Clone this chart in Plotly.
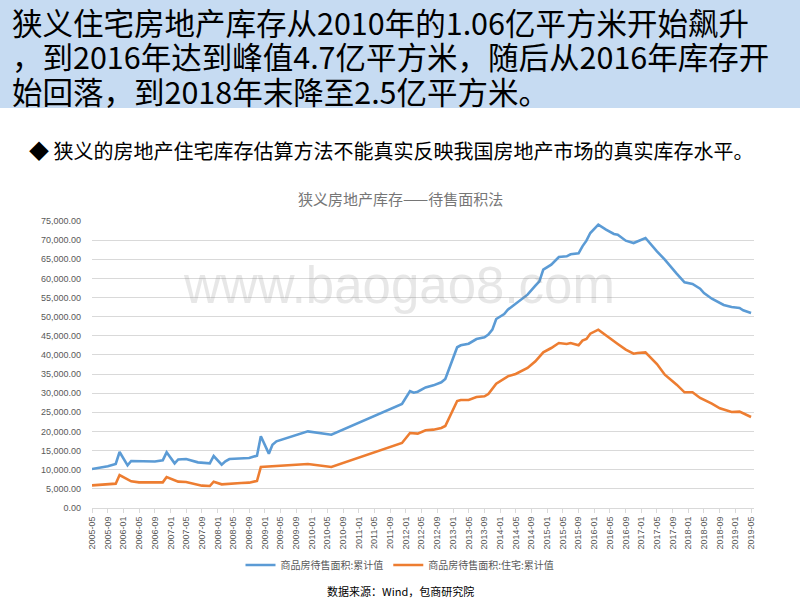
import plotly.graph_objects as go

# ---------------- data (万平方米) ----------------
total_dates = [
    "2005-05", "2005-09", "2005-11", "2005-12", "2006-02", "2006-03", "2006-06", "2006-09",
    "2006-11", "2006-12", "2007-02", "2007-03", "2007-05", "2007-08", "2007-11", "2007-12",
    "2008-02", "2008-03", "2008-04", "2008-07", "2008-09", "2008-11", "2008-12", "2009-02",
    "2009-03", "2009-04", "2009-12", "2010-06", "2011-12", "2012-02", "2012-03", "2012-04",
    "2012-06", "2012-08", "2012-10", "2012-11", "2013-02", "2013-03", "2013-05", "2013-07",
    "2013-09", "2013-10", "2013-11", "2013-12", "2014-02", "2014-03", "2014-05", "2014-08",
    "2014-10", "2014-11", "2014-12", "2015-02", "2015-04", "2015-06", "2015-07", "2015-09",
    "2015-10", "2015-11", "2015-12", "2016-02", "2016-04", "2016-06", "2016-07", "2016-09",
    "2016-11", "2017-02", "2017-05", "2017-07", "2017-10", "2017-12", "2018-02", "2018-04",
    "2018-05", "2018-07", "2018-10", "2018-12", "2019-02", "2019-03", "2019-05",
]
total_values = [
    10190, 10890, 11500, 14630, 11150, 12280, 12200, 12150,
    12450, 14550, 11670, 12700, 12800, 11930, 11670, 13590,
    11320, 12200, 12800, 12900, 13070, 13680, 18730, 14200,
    16550, 17420, 20030, 19160, 27180, 30570, 30140, 30400,
    31500, 32050, 32840, 33710, 42000, 42510, 42940, 44160,
    44600, 45300, 46600, 49390, 50700, 51830, 53400, 55750,
    58100, 59230, 62280, 63590, 65590, 65770, 66290, 66550,
    68380, 69860, 71860, 74040, 72740, 71600, 71430, 69860,
    69250, 70560, 67070, 64900, 61240, 58970, 58540, 57320,
    56180, 54700, 53050, 52530, 52260, 51660, 50960,
]

resid_dates = [
    "2005-05", "2005-09", "2005-11", "2005-12", "2006-03", "2006-05", "2006-08", "2006-11",
    "2006-12", "2007-03", "2007-05", "2007-09", "2007-11", "2007-12", "2008-02", "2008-05",
    "2008-07", "2008-09", "2008-11", "2008-12", "2009-12", "2010-06", "2011-12", "2012-02",
    "2012-04", "2012-06", "2012-08", "2012-10", "2012-11", "2013-02", "2013-03", "2013-05",
    "2013-07", "2013-09", "2013-10", "2013-12", "2014-03", "2014-05", "2014-08", "2014-10",
    "2014-12", "2015-02", "2015-04", "2015-06", "2015-07", "2015-09", "2015-10", "2015-11",
    "2015-12", "2016-02", "2016-04", "2016-06", "2016-07", "2016-09", "2016-11", "2016-12",
    "2017-02", "2017-05", "2017-07", "2017-10", "2017-12", "2018-02", "2018-04", "2018-07",
    "2018-09", "2018-12", "2019-02", "2019-05",
]
resid_values = [
    5920, 6100, 6360, 8620, 6970, 6700, 6620, 6700,
    8100, 6880, 6790, 5840, 5750, 6880, 6180, 6450,
    6530, 6620, 7060, 10710, 11500, 10710, 16990, 19600,
    19430, 20300, 20470, 20910, 21430, 27960, 28220, 28220,
    29010, 29180, 29790, 32490, 34410, 35020, 36590, 38330,
    40680, 41810, 43120, 42860, 43120, 42510, 43730, 44160,
    45560, 46600, 45040, 43550, 42860, 41380, 40330, 40510,
    40680, 37630, 34840, 32230, 30230, 30230, 28750, 27260,
    26050, 25090, 25170, 23780,
]

series_names = ["商品房待售面积:累计值", "商品房待售面积:住宅:累计值"]
chart_title = "狭义房地产库存——待售面积法"
header_lines = [
    "狭义住宅房地产库存从2010年的1.06亿平方米开始飙升",
    "，到2016年达到峰值4.7亿平方米，随后从2016年库存开",
    "始回落，到2018年末降至2.5亿平方米。",
]
bullet_text = "◆ 狭义的房地产住宅库存估算方法不能真实反映我国房地产市场的真实库存水平。"
source_text = "数据来源：Wind，包商研究院"
watermark = "www.baogao8.com"

# ---------------- layout helpers ----------------
W_FIG, H_FIG = 800, 600
L, R, T, B = 92, 46, 221, 92
PW = W_FIG - L - R
PH = H_FIG - T - B


def pxx(x):
    return (x - L) / PW


def pxy(y):
    return (H_FIG - B - y) / PH


CJK = "Noto Sans CJK SC"

fig = go.Figure()
fig.add_trace(go.Scatter(
    x=[d + "-01" for d in total_dates], y=total_values, mode="lines",
    name=series_names[0], line=dict(color="#5B9BD5", width=2.6)))
fig.add_trace(go.Scatter(
    x=[d + "-01" for d in resid_dates], y=resid_values, mode="lines",
    name=series_names[1], line=dict(color="#ED7D31", width=2.6)))

fig.update_layout(
    width=W_FIG, height=H_FIG,
    margin=dict(l=L, r=R, t=T, b=B, pad=0),
    paper_bgcolor="white", plot_bgcolor="white",
    font=dict(family=CJK, color="#595959"),
    showlegend=True,
    legend=dict(orientation="h", x=pxx(400), xanchor="center", y=pxy(565), yanchor="middle",
                font=dict(size=10, color="#595959", family=CJK),
                itemwidth=30, tracegroupgap=0),
    xaxis=dict(
        type="date",
        range=["2005-05-01", "2019-05-24"],
        tick0="2005-05-01", dtick="M4", tickformat="%Y-%m",
        tickangle=-90, tickfont=dict(size=9, color="#595959", family="Liberation Sans"),
        showgrid=False, showline=True, linecolor="#D9D9D9", linewidth=1,
        ticks="outside", ticklen=4, tickcolor="#D9D9D9",
        zeroline=False,
    ),
    yaxis=dict(
        range=[0, 75000], dtick=5000, tickformat=",.2f",
        tickfont=dict(size=9, color="#595959", family="Liberation Sans"),
        showgrid=True, gridcolor="#D9D9D9", gridwidth=1,
        zeroline=False, showline=False, ticks="", ticklabelstandoff=10,
    ),
)

# header box
fig.add_shape(type="rect", xref="paper", yref="paper",
              x0=pxx(0), x1=pxx(800), y0=pxy(108), y1=pxy(0),
              fillcolor="#C6DBF2", line=dict(width=0), layer="below")

annotations = []
for line, yc in zip(header_lines, [22, 56.5, 91]):
    annotations.append(dict(text=line, x=pxx(10), y=pxy(yc), xanchor="left", yanchor="middle",
                            align="left", font=dict(size=30.5, color="black", family=CJK)))
annotations += [
    dict(text=bullet_text, x=pxx(27), y=pxy(150), xanchor="left", yanchor="middle",
         align="left", font=dict(size=20, color="black", family=CJK)),
    dict(text=chart_title, x=pxx(400), y=pxy(198), xanchor="center", yanchor="middle",
         font=dict(size=15, color="#767676", family=CJK)),
    dict(text=source_text, x=pxx(400), y=pxy(591), xanchor="center", yanchor="middle",
         font=dict(size=11, color="black", family=CJK)),
    dict(text=watermark, x=pxx(399), y=pxy(285), xanchor="center", yanchor="middle",
         font=dict(size=51, color="rgba(120,120,120,0.18)", family="Liberation Sans")),
]
for a in annotations:
    a.update(xref="paper", yref="paper", showarrow=False)
fig.update_layout(annotations=annotations)

fig.write_html("out.html",
               config={"displayModeBar": False},
               post_script="document.body.style.margin='0';document.body.style.padding='0';")
